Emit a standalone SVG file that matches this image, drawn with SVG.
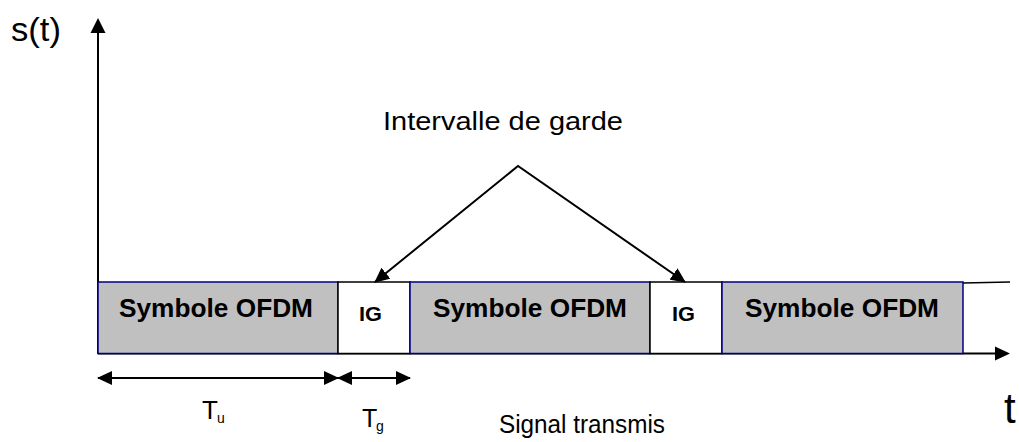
<svg xmlns="http://www.w3.org/2000/svg" width="1019" height="442" viewBox="0 0 1019 442">
<style>
text{font-family:"Liberation Sans",Arial,sans-serif;fill:#000}
.sym{fill:#C0C0C0;stroke:#000080;stroke-width:1.5}
.ig{fill:#fff;stroke:#000;stroke-width:1.5}
.b{font-weight:bold}
.ln{stroke:#000;stroke-width:2;fill:none}
</style>
<defs>
<marker id="ah" viewBox="0 0 15 14" refX="14" refY="7" markerWidth="15" markerHeight="14" markerUnits="userSpaceOnUse" orient="auto-start-reverse">
<path d="M0,0 L15,7 L0,14 z" fill="#000"/>
</marker>
</defs>
<g id="axes">
<line class="ln" x1="98" y1="354" x2="98" y2="30"/>
<polygon points="98,18 90.5,33 105.5,33" fill="#000"/>
<line class="ln" x1="98" y1="353.5" x2="996" y2="353.5"/>
<polygon points="1010,353.5 995,346.5 995,360.5" fill="#000"/>
<line x1="963" y1="283" x2="1010" y2="282" stroke="#000" stroke-width="1.5"/>
<text x="11" y="41" font-size="33" textLength="50" lengthAdjust="spacingAndGlyphs">s(t)</text>
<text x="1004" y="423" font-size="42">t</text>
</g>
<g id="sym1"><rect class="sym" x="98" y="282" width="240" height="71.5"/><text class="b" x="119" y="317" font-size="25" textLength="194" lengthAdjust="spacingAndGlyphs">Symbole OFDM</text></g>
<g id="ig1"><rect class="ig" x="338" y="282" width="72" height="71.5"/><text class="b" x="359" y="321" font-size="21" textLength="23" lengthAdjust="spacingAndGlyphs">IG</text></g>
<g id="sym2"><rect class="sym" x="410" y="282" width="240" height="71.5"/><text class="b" x="433" y="317" font-size="25" textLength="194" lengthAdjust="spacingAndGlyphs">Symbole OFDM</text></g>
<g id="ig2"><rect class="ig" x="650" y="282" width="72" height="71.5"/><text class="b" x="672" y="321" font-size="21" textLength="23" lengthAdjust="spacingAndGlyphs">IG</text></g>
<g id="sym3"><rect class="sym" x="722" y="282" width="241" height="71.5"/><text class="b" x="745" y="317" font-size="25" textLength="194" lengthAdjust="spacingAndGlyphs">Symbole OFDM</text></g>
<g id="label-ig"><text x="383" y="130" font-size="25" textLength="240" lengthAdjust="spacingAndGlyphs">Intervalle de garde</text></g>
<g id="connectors">
<polyline class="ln" points="375,282 518,166 685,282" marker-start="url(#ah)" marker-end="url(#ah)"/>
<line class="ln" x1="98" y1="378" x2="338" y2="378" marker-start="url(#ah)" marker-end="url(#ah)"/>
<line class="ln" x1="338" y1="378" x2="410" y2="378" marker-start="url(#ah)" marker-end="url(#ah)"/>
</g>
<g id="tu"><text x="202" y="419" font-size="26">T</text><text x="217" y="423" font-size="14">u</text></g>
<g id="tg"><text x="362" y="427" font-size="25">T</text><text x="376" y="431" font-size="14">g</text></g>
<g id="caption"><text x="499" y="433" font-size="25" textLength="166" lengthAdjust="spacingAndGlyphs">Signal transmis</text></g>
</svg>
